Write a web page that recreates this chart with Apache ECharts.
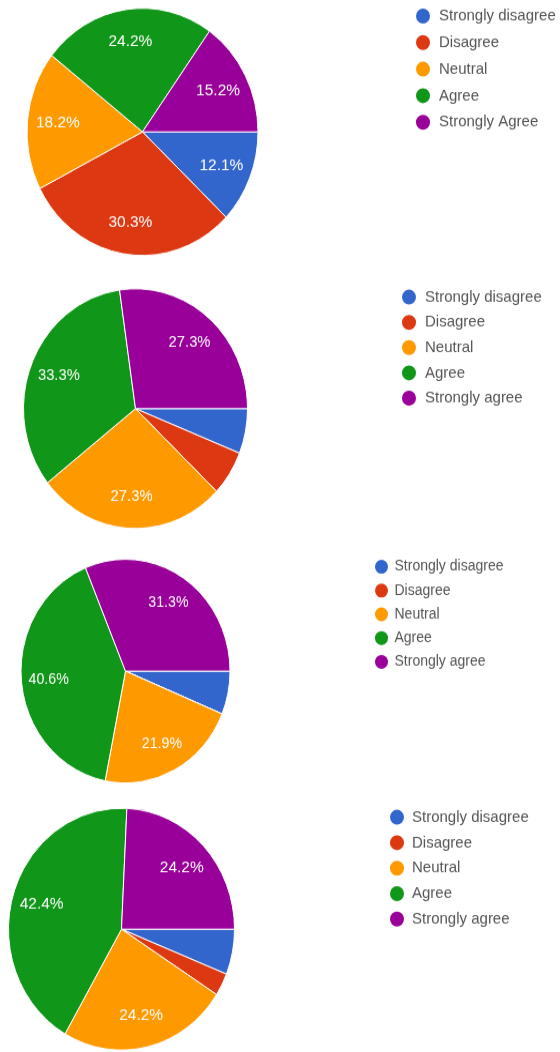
<!DOCTYPE html>
<html>
<head>
<meta charset="utf-8">
<script src="https://cdn.jsdelivr.net/npm/echarts@6/dist/echarts.min.js"></script>
<style>
  html, body { margin: 0; padding: 0; background: #fff; }
  body { width: 560px; height: 1052px; }
  #chart { width: 560px; height: 983px; transform: scaleY(1.0702); transform-origin: 0 0; }
</style>
</head>
<body>
<div id="chart"></div>
<script>
// ---- data ----
const categories1 = ['Strongly disagree', 'Disagree', 'Neutral', 'Agree', 'Strongly Agree'];
const categories = ['Strongly disagree', 'Disagree', 'Neutral', 'Agree', 'Strongly agree'];
const values1 = [4, 10, 6, 8, 5];
const values2 = [2, 2, 9, 11, 9];
const values3 = [2, 0, 7, 13, 10];
const values4 = [2, 1, 8, 14, 8];
const colors = ['#3366cc', '#dc3912', '#ff9900', '#109618', '#990099'];

const FONT = '"Liberation Sans", Arial, sans-serif';

function toData(names, values) {
  return names.map((n, i) => ({ name: n, value: values[i], itemStyle: { color: colors[i] } }));
}

function pie(names, values, center, r, fontSize) {
  const total = values.reduce((a, b) => a + b, 0);
  const base = {
    type: 'pie',
    center: center,
    startAngle: 0,
    clockwise: true,
    animation: false,
    silent: true,
    emphasis: { disabled: true },
    labelLine: { show: false }
  };
  const vis = Object.assign({}, base, {
    radius: [0, r],
    data: toData(names, values),
    itemStyle: { borderColor: '#ffffff', borderWidth: 1 },
    label: { show: false }
  });
  const lab = Object.assign({}, base, {
    radius: [r * 0.42, r],
    data: names.map((n, i) => ({ name: n, value: values[i], itemStyle: { color: 'rgba(0,0,0,0)' } })),
    itemStyle: { borderWidth: 0 },
    label: {
      show: true,
      position: 'inside',
      color: '#ffffff',
      fontSize: fontSize,
      fontFamily: FONT,
      formatter: function (p) {
        const pct = p.value / total * 100;
        return pct < 10 ? '' : pct.toFixed(1) + '%';
      }
    }
  });
  return [vis, lab];
}

function legend(names, left, top, w, h, gap, fontSize) {
  return {
    data: names,
    orient: 'vertical',
    left: left,
    top: top,
    padding: 0,
    icon: 'circle',
    itemWidth: w,
    itemHeight: h,
    itemGap: gap,
    selectedMode: false,
    textStyle: { fontSize: fontSize, color: '#555', fontFamily: FONT }
  };
}

const p1 = pie(categories1, values1, [142.5, 123.2], 115.5, 15.5);
const p2 = pie(categories, values2, [135.5, 381.8], 112, 14.8);
const p3 = pie(categories, values3, [125.5, 627.1], 104.5, 14.2);
const p4 = pie(categories, values4, [121.5, 868.2], 113, 15.5);

const chart = echarts.init(document.getElementById('chart'));
chart.setOption({
  animation: false,
  legend: [
    legend(categories1, 414, 6, 22, 16, 6.8, 15),
    legend(categories, 400, 268.6, 22, 16, 5.6, 15),
    legend(categories, 373, 521.1, 16, 15, 5.2, 14),
    legend(categories, 388, 754.6, 20, 16, 5.8, 15)
  ],
  series: [p1[0], p2[0], p3[0], p4[0], p1[1], p2[1], p3[1], p4[1]]
});
</script>
</body>
</html>
